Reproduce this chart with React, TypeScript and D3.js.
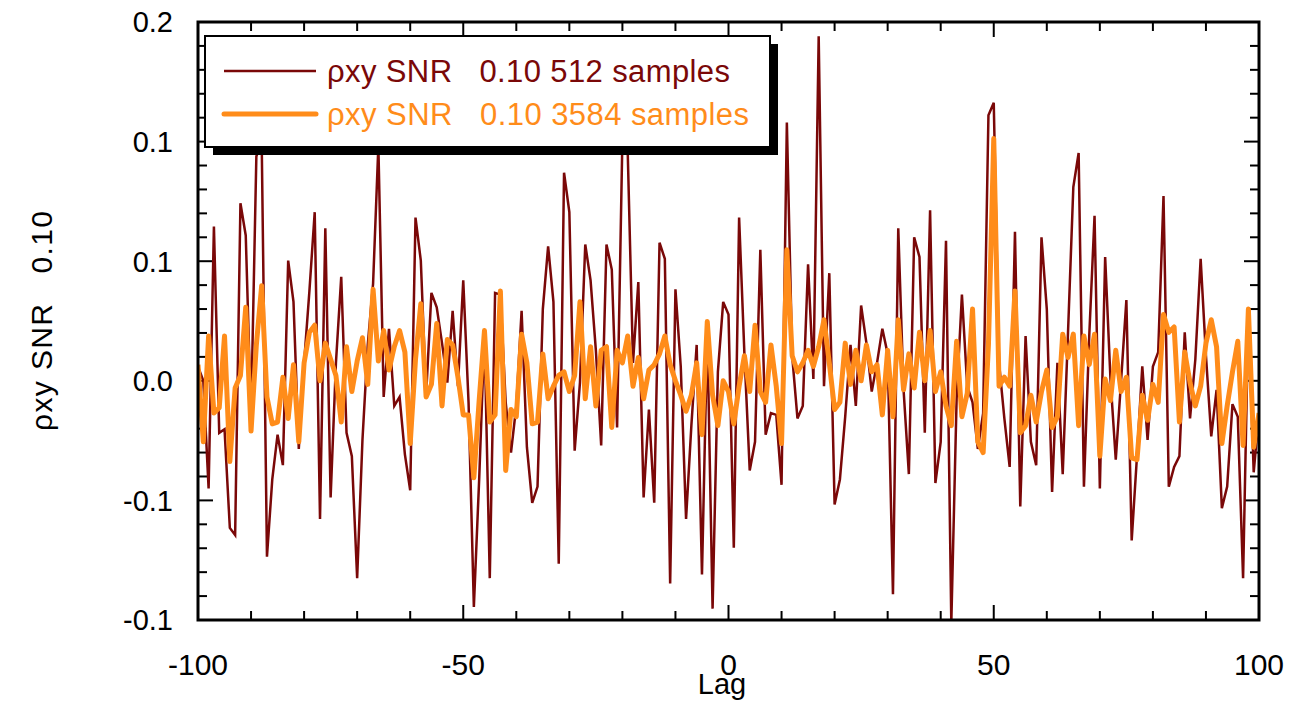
import React from 'react';
import * as d3 from 'd3';

// lag axis categories
const lags: number[] = d3.range(-100, 101);

// cross-correlation, 512 samples (lag -100..100)
const rho512: number[] = [
  0.008, 0.000, -0.060, 0.086, -0.029, -0.027, -0.082, -0.086, 0.099, 0.081,
  -0.020, 0.125, 0.135, -0.098, -0.055, -0.030, -0.047, 0.067, 0.044, -0.038,
  0.010, 0.050, 0.094, -0.077, 0.085, -0.065, 0.010, 0.058, -0.029, -0.042,
  -0.110, -0.033, 0.020, 0.054, 0.131, -0.009, 0.029, -0.014, -0.009, -0.041,
  -0.061, 0.091, 0.067, -0.008, 0.049, 0.041, 0.021, -0.001, 0.039, -0.003,
  0.056, -0.012, -0.126, -0.055, 0.026, -0.110, 0.049, 0.048, -0.012, -0.040,
  -0.014, 0.039, -0.037, -0.068, -0.059, 0.040, 0.075, 0.044, -0.102, 0.116,
  0.094, -0.039, -0.001, 0.076, 0.056, 0.017, -0.036, 0.076, 0.062, -0.026,
  0.135, 0.128, 0.010, 0.055, -0.065, -0.016, -0.068, 0.077, 0.068, -0.113,
  0.051, 0.008, -0.077, -0.025, 0.020, -0.108, 0.028, -0.127, 0.005, 0.044,
  0.037,
  -0.093, 0.091, 0.015, -0.050, -0.034, 0.073, -0.030, -0.018, -0.019, -0.058,
  0.144, 0.014, -0.021, -0.014, 0.065, 0.001, 0.192, -0.003, 0.060, -0.069,
  -0.055, -0.020, 0.020, -0.014, 0.042, 0.021, -0.006, 0.010, 0.029, 0.015,
  -0.119, 0.085, -0.005, -0.052, 0.080, 0.069, -0.029, 0.095, -0.057, -0.034,
  0.078, -0.135, -0.010, 0.048, -0.003, -0.012, -0.038, -0.018, 0.148, 0.155,
  0.010, -0.021, -0.048, 0.083, -0.070, 0.025, -0.034, -0.047, 0.080, 0.040,
  -0.062, 0.010, -0.052, 0.027, 0.108, 0.127, -0.059, 0.025, 0.092, -0.060,
  0.069, 0.001, -0.044, 0.000, 0.045, -0.089, -0.042, 0.008, -0.033, 0.008,
  0.016, 0.103, -0.059, -0.048, -0.042, 0.027, -0.021, 0.012, 0.068, 0.014,
  -0.031, -0.005, -0.071, -0.059, -0.013, -0.020, -0.110, 0.038, -0.051, -0.018
];

// cross-correlation, 3584 samples
const rho3584: number[] = [
  0.009, -0.034, 0.025, -0.018, -0.015, 0.025, -0.045, -0.004, 0.003, 0.041,
  -0.028, 0.020, 0.053, -0.009, -0.024, -0.023, 0.002, -0.021, 0.009, -0.034,
  0.010, 0.027, 0.031, 0.000, 0.021, 0.012, 0.003, -0.023, 0.019, -0.006,
  0.011, 0.024, -0.002, 0.051, 0.011, 0.028, 0.006, 0.019, 0.028, 0.016,
  -0.035, 0.012, 0.043, -0.009, -0.002, 0.032, -0.014, 0.023, 0.020, 0.002,
  -0.019, -0.019, -0.054, -0.011, 0.028, -0.023, -0.019, 0.050, -0.050, -0.016,
  -0.020, 0.026, 0.010, -0.024, -0.023, 0.015, -0.010, -0.003, 0.003, 0.005,
  -0.006, 0.003, 0.044, -0.010, 0.019, -0.014, 0.017, 0.019, -0.026, 0.017,
  0.010, 0.025, -0.003, 0.013, -0.010, 0.006, 0.009, 0.015, 0.025, 0.009,
  0.000, -0.008, -0.017, -0.008, 0.010, -0.030, 0.033, -0.008, -0.025, 0.000,
  -0.006,
  -0.024, -0.003, 0.014, -0.006, 0.031, -0.006, -0.012, 0.020, -0.003, -0.035,
  0.073, 0.014, 0.005, 0.010, 0.017, 0.008, 0.019, 0.034, 0.010, -0.016,
  -0.012, 0.021, -0.002, 0.017, 0.000, 0.020, 0.005, 0.009, -0.019, 0.017,
  -0.020, 0.034, -0.005, 0.015, -0.004, 0.027, 0.000, 0.028, -0.006, 0.005,
  -0.014, -0.025, 0.022, -0.020, -0.007, 0.040, -0.034, -0.040, 0.020, 0.135,
  -0.003, 0.002, -0.003, 0.050, -0.029, -0.025, -0.008, -0.023, -0.006, 0.006,
  -0.026, -0.020, 0.026, 0.013, 0.026, -0.025, 0.025, 0.009, 0.026, -0.042,
  0.001, -0.011, 0.017, -0.006, 0.002, -0.043, -0.044, -0.008, -0.022, -0.002,
  -0.012, 0.037, 0.027, 0.030, -0.023, 0.016, -0.001, -0.014, -0.003, 0.021,
  0.034, 0.019, -0.035, -0.014, 0.005, 0.022, -0.036, 0.040, -0.037, -0.018
];

const xTickValues = [-100, -50, 0, 50, 100];
const xTickLabels = ['-100', '-50', '0', '50', '100'];
const yTickValues = [-2 / 15, -1 / 15, 0, 1 / 15, 2 / 15, 0.2];
const yTickLabels = ['-0.1', '-0.1', '0.0', '0.1', '0.1', '0.2'];
const seriesNames = ['\u03c1xy SNR   0.10 512 samples', '\u03c1xy SNR   0.10 3584 samples'];
const xTitle = 'Lag';
const yTitle = '\u03c1xy SNR   0.10';

const W = 1291;
const H = 702;
const left = 198, right = 1259, top = 22, bottom = 620;
const font = '"Liberation Sans", Arial, sans-serif';
const dark = '#7a0808';
const orange = '#ff8c1a';

export default function App() {
  const x = d3.scaleLinear().domain([-100, 100]).range([left, right]);
  const y = d3.scaleLinear().domain([-2 / 15, 0.2]).range([bottom, top]);

  const line = d3.line<number>()
    .x((d, i) => x(lags[i]))
    .y(d => y(d));

  const xMinor = d3.range(-100, 101, 10);
  const yMinor = d3.range(0, 26).map(i => -2 / 15 + i * (1 / 75));

  const lx = 205, ly = 36, lw = 565, lh = 111;

  return (
    <svg width={W} height={H} style={{ position: 'absolute', left: 0, top: 0, background: '#fff' }}
      fontFamily={font}>
      <defs>
        <clipPath id="plot">
          <rect x={left} y={top} width={right - left} height={bottom - top} />
        </clipPath>
      </defs>

      {/* minor + major ticks, all four sides */}
      <g stroke="#000" strokeWidth={2}>
        {xMinor.map(v => {
          const len = v % 50 === 0 ? 15 : 9;
          return (
            <g key={'xt' + v}>
              <line x1={x(v)} x2={x(v)} y1={bottom} y2={bottom - len} />
              <line x1={x(v)} x2={x(v)} y1={top} y2={top + len} />
            </g>
          );
        })}
        {yMinor.map((v, i) => {
          const len = i % 5 === 0 ? 15 : 9;
          return (
            <g key={'yt' + i}>
              <line x1={left} x2={left + len} y1={y(v)} y2={y(v)} />
              <line x1={right} x2={right - len} y1={y(v)} y2={y(v)} />
            </g>
          );
        })}
      </g>

      <g clipPath="url(#plot)" fill="none">
        <path d={line(rho512) || ''} stroke={dark} strokeWidth={2.5} />
        <path d={line(rho3584) || ''} stroke={orange} strokeWidth={5} strokeLinejoin="round" />
      </g>

      <rect x={left} y={top} width={right - left} height={bottom - top}
        fill="none" stroke="#000" strokeWidth={3} />

      {/* legend */}
      <rect x={lx + 8} y={ly + 8} width={lw} height={lh} fill="#000" />
      <rect x={lx} y={ly} width={lw} height={lh} fill="#fff" stroke="#000" strokeWidth={2} />
      <line x1={224} x2={316} y1={71} y2={71} stroke={dark} strokeWidth={2.5} />
      <line x1={224} x2={316} y1={114} y2={114} stroke={orange} strokeWidth={5} strokeLinecap="round" />
      <text x={327} y={82} fontSize={31} fill={dark} style={{ whiteSpace: 'pre' }}
        textLength={403} lengthAdjust="spacing">{seriesNames[0]}</text>
      <text x={327} y={125} fontSize={31} fill={orange} style={{ whiteSpace: 'pre' }}
        textLength={422} lengthAdjust="spacing">{seriesNames[1]}</text>

      {/* tick labels */}
      {yTickValues.map((v, i) => (
        <text key={'yl' + i} x={173} y={y(v)} dy="0.36em" textAnchor="end" fontSize={29}>{yTickLabels[i]}</text>
      ))}
      {xTickValues.map((v, i) => (
        <text key={'xl' + i} x={x(v)} y={664} dy="0.36em" textAnchor="middle" fontSize={30}>{xTickLabels[i]}</text>
      ))}

      <text x={722} y={694} textAnchor="middle" fontSize={29}>{xTitle}</text>
      <text transform={`translate(52,${(top + bottom) / 2}) rotate(-90)`} textAnchor="middle"
        fontSize={30} style={{ whiteSpace: 'pre' }} textLength={220} lengthAdjust="spacing">{yTitle}</text>
    </svg>
  );
}
